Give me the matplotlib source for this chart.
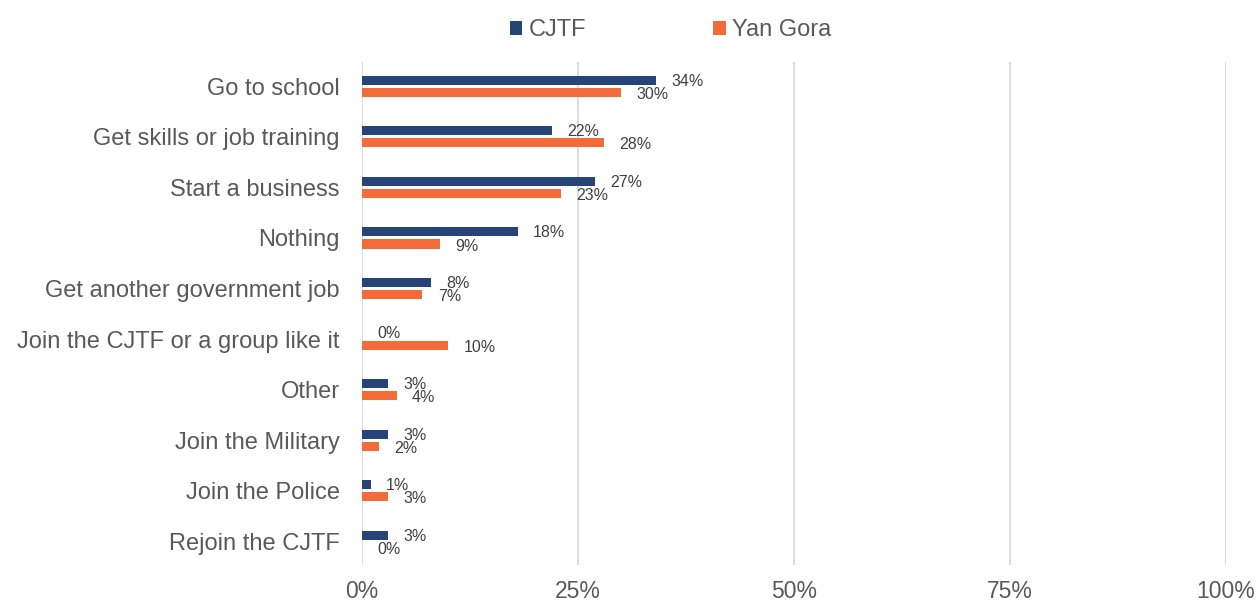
import matplotlib
matplotlib.use("Agg")
import matplotlib.pyplot as plt
import numpy as np

categories = ["Go to school", "Get skills or job training", "Start a business", "Nothing",
              "Get another government job", "Join the CJTF or a group like it", "Other",
              "Join the Military", "Join the Police", "Rejoin the CJTF"]
cjtf = [34, 22, 27, 18, 8, 0, 3, 3, 1, 3]
yan_gora = [30, 28, 23, 9, 7, 10, 4, 2, 3, 0]
xticks = [0, 25, 50, 75, 100]
xtick_labels = ["0%", "25%", "50%", "75%", "100%"]

navy = "#264478"
orange = "#F26B38"
grey_text = "#595959"

plt.rcParams['font.family'] = ['Liberation Sans', 'DejaVu Sans']

fig = plt.figure(figsize=(12.58, 6.04), dpi=100)
ax = fig.add_axes([362/1258, 39/604, 864/1258, 503/604])

y = np.arange(len(categories))
h = 0.18
off = 0.12
ax.barh(y - off, cjtf, height=h, color=navy, label="CJTF", zorder=3)
ax.barh(y + off, yan_gora, height=h, color=orange, label="Yan Gora", zorder=3)

for yi, v in zip(y, cjtf):
    ax.annotate(f"{v}%", (v, yi - off + 0.02), xytext=(11, 0), textcoords="offset points",
                ha="left", va="center", fontsize=11.5, color="#404040")
for yi, v in zip(y, yan_gora):
    ax.annotate(f"{v}%", (v, yi + off + 0.04), xytext=(11, 0), textcoords="offset points",
                ha="left", va="center", fontsize=11.5, color="#404040")

ax.set_ylim(len(categories) - 0.5 - 0.03, -0.45 - 0.03)
ax.set_xlim(0, 100)
ax.set_yticks(y)
ax.set_yticklabels(categories, fontsize=17, color=grey_text)
ax.set_xticks(xticks)
ax.set_xticklabels(xtick_labels, fontsize=16.5, color=grey_text)
ax.tick_params(axis='both', length=0)
ax.tick_params(axis='y', pad=16)
ax.tick_params(axis='x', pad=11)
for s in ax.spines.values():
    s.set_visible(False)
ax.xaxis.grid(True, color="#d9d9d9", linewidth=1.3, zorder=0)
ax.set_axisbelow(True)

leg = fig.legend(loc="upper center", bbox_to_anchor=(0.533, 1.003), ncol=2, frameon=False,
                 fontsize=17, handlelength=0.55, handleheight=0.55, handletextpad=0.25,
                 columnspacing=5.4)
for t in leg.get_texts():
    t.set_color(grey_text)

fig.savefig("out.png", dpi=100)
